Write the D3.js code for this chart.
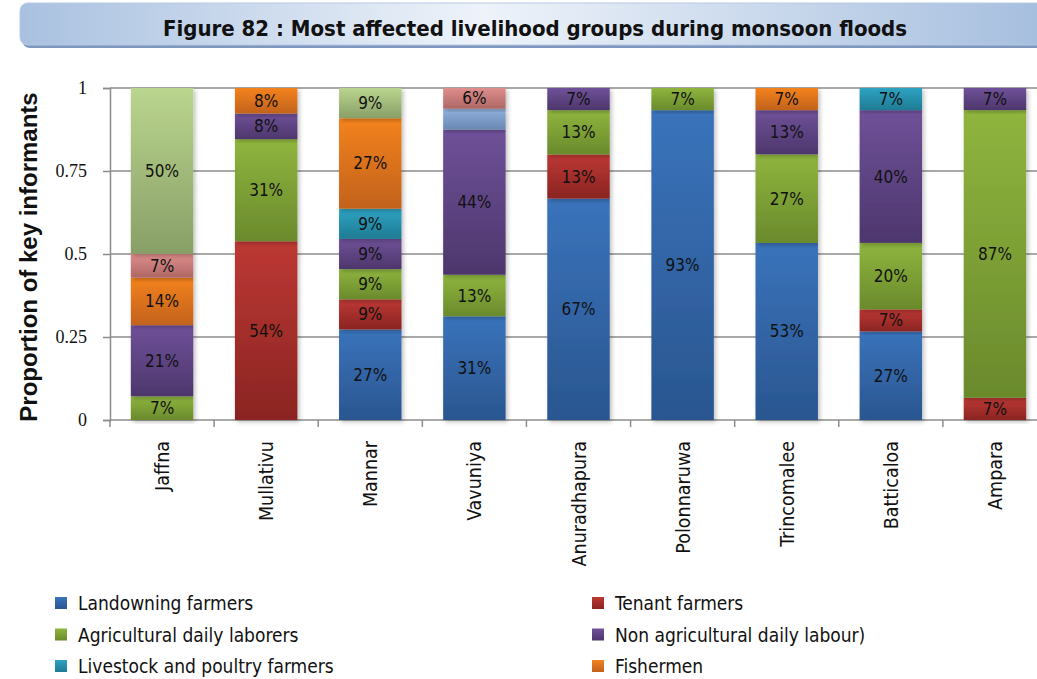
<!DOCTYPE html>
<html>
<head>
<meta charset="utf-8">
<script src="https://cdn.jsdelivr.net/npm/d3@7"></script>
<style>
  body { margin: 0; background: #fff; }
  svg { display: block; }
</style>
</head>
<body>
<div id="chart"></div>
<script>
// districts along the x axis
const districts = ["Jaffna", "Mullativu", "Mannar", "Vavuniya", "Anuradhapura", "Polonnaruwa", "Trincomalee", "Batticaloa", "Ampara"];

// share of key informants per livelihood group (one value per district)
const landowning = [0, 0, 0.2727, 0.3125, 0.6667, 0.9333, 0.5333, 0.2667, 0];
const tenant     = [0, 0.5385, 0.0909, 0, 0.1333, 0, 0, 0.0667, 0.0667];
const agriDaily  = [0.0714, 0.3077, 0.0909, 0.125, 0.1333, 0.0667, 0.2667, 0.2, 0.8667];
const nonAgri    = [0.2143, 0.0769, 0.0909, 0.4375, 0.0667, 0, 0.1333, 0.4, 0.0667];
const livestock  = [0, 0, 0.0909, 0, 0, 0, 0, 0.0667, 0];
const fishermen  = [0.1429, 0.0769, 0.2727, 0, 0, 0, 0.0667, 0, 0];
const series7    = [0, 0, 0, 0.0625, 0, 0, 0, 0, 0];
const series8    = [0.0714, 0, 0, 0.0625, 0, 0, 0, 0, 0];
const series9    = [0.5, 0, 0.0909, 0, 0, 0, 0, 0, 0];

const seriesNames = ["Landowning farmers", "Tenant farmers", "Agricultural daily laborers",
  "Non agricultural daily labour)", "Livestock and poultry farmers", "Fishermen",
  "Series 7", "Series 8", "Series 9"];
const seriesValues = [landowning, tenant, agriDaily, nonAgri, livestock, fishermen, series7, series8, series9];
const legendSeries = 6;          // only the first six appear in the legend
const unlabeledSeries = ["Series 7"];
const yTicks = [0, 0.25, 0.5, 0.75, 1];
const yTickLabels = ["0", "0.25", "0.5", "0.75", "1"];

// gradient colours per series: [top, bottom]
const colors = [
  ["#3a73bb", "#2a5690"], ["#bd3834", "#8a2422"], ["#8fb53e", "#6a8a2c"],
  ["#6f5199", "#4d366c"], ["#2ea3c2", "#1f7b94"], ["#f3821f", "#c2621a"],
  ["#93b1de", "#6887b2"], ["#de8e8c", "#ae6765"], ["#bad58e", "#889f67"]
];

const W = 1037, H = 679;
const plot = { left: 110, right: 1047, top: 88, bottom: 420 };
const condensed = "'DejaVu Sans Condensed', 'Liberation Sans', sans-serif";

const table = districts.map((d, i) => {
  const row = { district: d };
  seriesNames.forEach((s, k) => row[s] = seriesValues[k][i]);
  return row;
});
const stacked = d3.stack().keys(seriesNames)(table);

const svg = d3.select("#chart").append("svg")
  .attr("width", W).attr("height", H);

const defs = svg.append("defs");
colors.forEach((c, k) => {
  const g = defs.append("linearGradient").attr("id", "grad" + k)
    .attr("x1", 0).attr("y1", 0).attr("x2", 0).attr("y2", 1);
  g.append("stop").attr("offset", "0%").attr("stop-color", c[0]);
  g.append("stop").attr("offset", "100%").attr("stop-color", c[1]);
});
const shadow = defs.append("filter").attr("id", "shadow")
  .attr("x", "-20%").attr("y", "-5%").attr("width", "150%").attr("height", "120%");
shadow.append("feDropShadow").attr("dx", 2).attr("dy", 2).attr("stdDeviation", 2)
  .attr("flood-color", "#000").attr("flood-opacity", 0.25);

const titleGrad = defs.append("linearGradient").attr("id", "titleGrad")
  .attr("x1", 0).attr("y1", 0).attr("x2", 1).attr("y2", 0);
titleGrad.append("stop").attr("offset", "0%").attr("stop-color", "#a9c1e0");
titleGrad.append("stop").attr("offset", "45%").attr("stop-color", "#eef3fa");
titleGrad.append("stop").attr("offset", "100%").attr("stop-color", "#a5bede");

// title banner
svg.append("rect")
  .attr("x", 22).attr("y", 6).attr("width", 1030).attr("height", 42).attr("rx", 8)
  .attr("fill", "#7d97bf");
svg.append("rect")
  .attr("x", 20).attr("y", 3).attr("width", 1030).attr("height", 42).attr("rx", 8)
  .attr("fill", "url(#titleGrad)").attr("stroke", "#b7c9e2").attr("stroke-width", 1);
svg.append("text")
  .attr("x", 535).attr("y", 36)
  .attr("text-anchor", "middle")
  .style("font-family", condensed)
  .style("font-weight", "bold").style("font-size", "22px").attr("fill", "#111")
  .text("Figure 82 : Most affected livelihood groups during monsoon floods");

const x = d3.scaleBand().domain(districts).range([plot.left, plot.right]).paddingInner(0.4).paddingOuter(0.2);
const y = d3.scaleLinear().domain([0, 1]).range([plot.bottom, plot.top]);

// gridlines
svg.append("g").selectAll("line")
  .data(yTicks.filter(t => t > 0))
  .enter().append("line")
  .attr("x1", plot.left).attr("x2", W)
  .attr("y1", d => y(d)).attr("y2", d => y(d))
  .attr("stroke", "#8c8c8c").attr("stroke-width", 1.5);

// y axis
const yAxis = svg.append("g")
  .attr("transform", `translate(${plot.left},0)`)
  .call(d3.axisLeft(y).tickValues(yTicks).tickSize(7).tickPadding(16)
    .tickFormat((d, i) => yTickLabels[i]));
yAxis.select(".domain").attr("stroke", "#8c8c8c").attr("stroke-width", 1.5);
yAxis.selectAll(".tick line").attr("stroke", "#8c8c8c").attr("stroke-width", 1.5);
yAxis.selectAll("text")
  .style("font-family", "'Liberation Serif', 'DejaVu Serif', serif")
  .style("font-size", "18px").attr("fill", "#111");

// x axis line + ticks at band edges
const xAxisG = svg.append("g");
xAxisG.append("line")
  .attr("x1", plot.left).attr("x2", W)
  .attr("y1", plot.bottom).attr("y2", plot.bottom)
  .attr("stroke", "#8c8c8c").attr("stroke-width", 1.5);
xAxisG.selectAll("line.tk")
  .data(districts)
  .enter().append("line").attr("class", "tk")
  .attr("x1", d => x(d) - x.step() * 0.2).attr("x2", d => x(d) - x.step() * 0.2)
  .attr("y1", plot.bottom).attr("y2", plot.bottom + 7)
  .attr("stroke", "#8c8c8c").attr("stroke-width", 1.5);

// bars
const layers = svg.append("g").selectAll("g.layer")
  .data(stacked)
  .enter().append("g").attr("class", "layer")
  .attr("fill", (d, k) => `url(#grad${k})`);

layers.selectAll("rect")
  .data(d => d.filter(p => p[1] - p[0] > 0))
  .enter().append("rect")
  .attr("x", d => x(d.data.district))
  .attr("width", x.bandwidth())
  .attr("y", d => y(d[1]))
  .attr("height", d => y(d[0]) - y(d[1]))
  .attr("filter", "url(#shadow)");

// data labels
const labels = svg.append("g");
stacked.forEach(layer => {
  if (unlabeledSeries.includes(layer.key)) return;
  layer.forEach(p => {
    const v = p[1] - p[0];
    if (v <= 0) return;
    labels.append("text")
      .attr("x", x(p.data.district) + x.bandwidth() / 2)
      .attr("y", y((p[0] + p[1]) / 2) + 6)
      .attr("text-anchor", "middle")
      .style("font-family", condensed)
      .style("font-size", "17px").attr("fill", "#111")
      .text(Math.round(v * 100) + "%");
  });
});

// x labels, rotated
svg.append("g").selectAll("text")
  .data(districts)
  .enter().append("text")
  .attr("transform", d => `translate(${x(d) + x.bandwidth() / 2 + 7},441) rotate(-90)`)
  .attr("text-anchor", "end")
  .style("font-family", condensed)
  .style("font-size", "19.5px").attr("fill", "#111")
  .text(d => d);

// y title
svg.append("text")
  .attr("transform", "translate(37,257) rotate(-90)")
  .attr("text-anchor", "middle")
  .style("font-family", "'Liberation Sans', Arial, sans-serif")
  .style("font-weight", "bold").style("font-size", "24px").attr("fill", "#111")
  .text("Proportion of key informants");

// legend
const legend = svg.append("g");
seriesNames.slice(0, legendSeries).forEach((s, k) => {
  const col = k % 2, row = Math.floor(k / 2);
  const lx = col === 0 ? 55 : 592, ly = 604 + row * 31.5;
  legend.append("rect")
    .attr("x", lx).attr("y", ly - 7).attr("width", 12).attr("height", 12)
    .attr("fill", `url(#grad${k})`);
  legend.append("text")
    .attr("x", lx + 23).attr("y", ly + 6)
    .style("font-family", condensed)
    .style("font-size", "19px").attr("fill", "#111")
    .text(s);
});
</script>
</body>
</html>
